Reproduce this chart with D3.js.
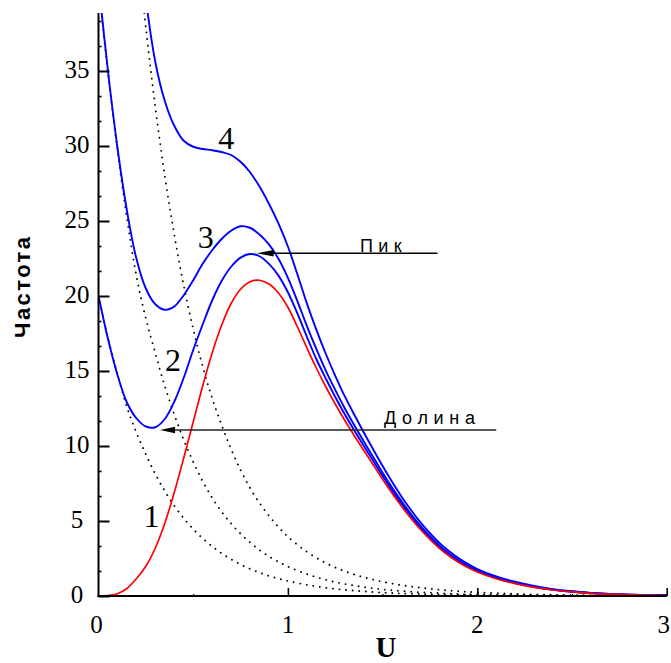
<!DOCTYPE html>
<html>
<head>
<meta charset="utf-8">
<script src="https://cdn.jsdelivr.net/npm/d3@7"></script>
<style>
  html, body { margin: 0; padding: 0; background: #fff; }
  svg { display: block; }
</style>
</head>
<body>
<svg id="chart" width="671" height="663"></svg>
<script>
// Frequency distributions over U: [U, frequency] pairs
// 1 — signal alone (red)
const curve1 = [[0,0],[0.05,0.02],[0.1,0.15],[0.15,0.5],[0.2,1.15],[0.25,1.98],[0.3,3.2],[0.35,4.85],[0.4,6.9],[0.45,9.2],[0.5,11.6],[0.55,14.0],[0.6,16.2],[0.65,18.05],[0.7,19.5],[0.75,20.45],[0.8,20.95],[0.85,21.05],[0.9,20.8],[0.95,20.2],[1.0,19.25],[1.05,17.95],[1.1,16.55],[1.15,15.2],[1.2,13.95],[1.25,12.8],[1.3,11.72],[1.35,10.7],[1.4,9.72],[1.45,8.75],[1.5,7.78],[1.55,6.85],[1.6,5.98],[1.65,5.17],[1.7,4.43],[1.75,3.77],[1.8,3.18],[1.85,2.68],[1.9,2.25],[1.95,1.9],[2.0,1.6],[2.1,1.15],[2.2,0.83],[2.3,0.58],[2.4,0.4],[2.5,0.27],[2.6,0.18],[2.7,0.12],[2.8,0.08],[2.9,0.05],[3.0,0.03]];

// 2..4 — signal with increasing background (blue)
const curve2 = [[0,20],[0.05,17.15],[0.1,14.75],[0.15,12.9],[0.2,11.85],[0.25,11.3],[0.3,11.25],[0.35,11.8],[0.4,12.95],[0.45,14.55],[0.5,16.4],[0.55,18.1],[0.6,19.7],[0.65,21.0],[0.7,21.95],[0.75,22.56],[0.8,22.8],[0.85,22.65],[0.9,22.14],[0.95,21.36],[1.0,20.25],[1.05,18.84],[1.1,17.29],[1.15,15.8],[1.2,14.5],[1.25,13.27],[1.3,12.12],[1.35,11.05],[1.4,10.02],[1.45,9.01],[1.5,8.0],[1.55,7.04],[1.6,6.14],[1.65,5.31],[1.7,4.55],[1.75,3.87],[1.8,3.27],[1.85,2.76],[1.9,2.32],[1.95,1.96],[2.0,1.65],[2.1,1.18],[2.2,0.86],[2.3,0.6],[2.4,0.41],[2.5,0.28],[2.6,0.19],[2.7,0.125],[2.8,0.085],[2.9,0.055],[3.0,0.032]];

const curve3 = [[0,40.9],[0.05,35.0],[0.1,29.9],[0.15,25.7],[0.2,22.5],[0.25,20.5],[0.3,19.45],[0.35,19.08],[0.4,19.3],[0.45,20.05],[0.5,21.05],[0.55,22.15],[0.6,23.05],[0.65,23.8],[0.7,24.35],[0.75,24.65],[0.8,24.55],[0.85,24.1],[0.9,23.44],[0.95,22.48],[1.0,21.21],[1.05,19.66],[1.1,18.01],[1.15,16.47],[1.2,15.03],[1.25,13.74],[1.3,12.52],[1.35,11.4],[1.4,10.32],[1.45,9.27],[1.5,8.22],[1.55,7.23],[1.6,6.31],[1.65,5.46],[1.7,4.68],[1.75,3.99],[1.8,3.37],[1.85,2.84],[1.9,2.39],[1.95,2.02],[2.0,1.7],[2.1,1.23],[2.2,0.89],[2.3,0.625],[2.4,0.435],[2.5,0.3],[2.6,0.2],[2.7,0.13],[2.8,0.09],[2.9,0.057],[3.0,0.035]];

const curve4 = [[0.23,42.2],[0.25,39.8],[0.3,35.6],[0.35,33.0],[0.4,31.35],[0.45,30.35],[0.5,29.95],[0.55,29.8],[0.6,29.72],[0.65,29.6],[0.7,29.4],[0.75,28.95],[0.8,28.25],[0.85,27.3],[0.9,26.15],[0.95,24.84],[1.0,23.3],[1.05,21.45],[1.1,19.51],[1.15,17.76],[1.2,16.15],[1.25,14.68],[1.3,13.32],[1.35,12.1],[1.4,10.92],[1.45,9.78],[1.5,8.66],[1.55,7.61],[1.6,6.62],[1.65,5.73],[1.7,4.91],[1.75,4.19],[1.8,3.54],[1.85,3.0],[1.9,2.53],[1.95,2.14],[2.0,1.8],[2.1,1.31],[2.2,0.95],[2.3,0.67],[2.4,0.46],[2.5,0.32],[2.6,0.21],[2.7,0.14],[2.8,0.09],[2.9,0.06],[3.0,0.035]];

// Background components alone (dotted)
const noiseA = [[0,20],[0.05,17.2],[0.1,14.8],[0.15,12.6],[0.2,10.9],[0.25,9.45],[0.3,8.13],[0.35,7.0],[0.4,6.02],[0.45,5.18],[0.5,4.46],[0.55,3.84],[0.6,3.31],[0.65,2.85],[0.7,2.45],[0.75,2.11],[0.8,1.81],[0.85,1.56],[0.9,1.34],[0.95,1.16],[1.0,1.0],[1.1,0.74],[1.2,0.55],[1.3,0.41],[1.4,0.31],[1.5,0.23],[1.6,0.17],[1.7,0.13],[1.8,0.1],[1.9,0.07],[2.0,0.05],[2.2,0.03],[2.4,0.02],[2.6,0.01],[2.8,0.005],[3.0,0.002]];

const noiseB = [[0,40.8],[0.05,34.9],[0.1,29.75],[0.15,25.2],[0.2,21.35],[0.25,18.5],[0.3,16.2],[0.35,14.0],[0.4,12.1],[0.45,10.4],[0.5,8.95],[0.55,7.65],[0.6,6.55],[0.65,5.62],[0.7,4.83],[0.75,4.15],[0.8,3.57],[0.85,3.07],[0.9,2.64],[0.95,2.28],[1.0,1.96],[1.1,1.46],[1.2,1.08],[1.3,0.8],[1.4,0.6],[1.5,0.44],[1.6,0.33],[1.7,0.25],[1.8,0.19],[1.9,0.14],[2.0,0.1],[2.2,0.06],[2.4,0.035],[2.6,0.02],[2.8,0.01],[3.0,0.005]];

const noiseC = [[0.22,41.5],[0.25,37.9],[0.3,32.6],[0.35,28.0],[0.4,24.1],[0.45,20.7],[0.5,17.8],[0.55,15.3],[0.6,13.2],[0.65,11.4],[0.7,9.8],[0.75,8.4],[0.8,7.2],[0.85,6.2],[0.9,5.35],[0.95,4.6],[1.0,3.95],[1.1,2.95],[1.2,2.2],[1.3,1.65],[1.4,1.25],[1.5,0.95],[1.6,0.72],[1.7,0.55],[1.8,0.42],[1.9,0.32],[2.0,0.24],[2.2,0.14],[2.4,0.08],[2.6,0.045],[2.8,0.025],[3.0,0.015]];

// Axis ticks
const xTicks = [0, 1, 2, 3];
const xMinorTicks = [0.5, 1.5, 2.5];
const yTicks = [0, 5, 10, 15, 20, 25, 30, 35];
const yMinorStep = 5 / 3;

// Curve numbers and arrow annotations (data coordinates)
const curveNames = ["1", "2", "3", "4"];
const curveNameAt = [[0.28, 4.6], [0.394, 14.97], [0.566, 23.2], [0.674, 29.8]];
const arrowText = ["Пик", "Долина"];
const arrowTip = [[0.835, 22.85], [0.325, 11.07]];
const arrowTail = [[1.79, 22.85], [2.10, 11.07]];

const svg = d3.select("#chart");
const plotLeft = 98.5, plotRight = 666.7, plotBottom = 596, plotTop = 13;

const x = d3.scaleLinear().domain([0, 3]).range([plotLeft, plotRight]);
const y = d3.scaleLinear().domain([0, (plotBottom - plotTop) / 15]).range([plotBottom, plotTop]);

svg.append("defs").append("clipPath").attr("id", "plotClip")
  .append("rect").attr("x", plotLeft).attr("y", plotTop)
  .attr("width", 671 - plotLeft).attr("height", plotBottom - plotTop + 2);

const line = d3.line()
  .x(d => x(d[0])).y(d => y(d[1]))
  .curve(d3.curveCatmullRom.alpha(0.5));

const plot = svg.append("g").attr("clip-path", "url(#plotClip)");

// dotted background components
[noiseA, noiseB, noiseC].forEach(s => {
  plot.append("path").attr("d", line(s))
    .attr("fill", "none").attr("stroke", "#000")
    .attr("stroke-width", 1.9).attr("stroke-linecap", "round")
    .attr("stroke-dasharray", "0.01 6.6");
});

// measured distributions
[curve2, curve3, curve4].forEach(s => {
  plot.append("path").attr("d", line(s))
    .attr("fill", "none").attr("stroke", "#0000ff")
    .attr("stroke-width", 1.9);
});
plot.append("path").attr("d", line(curve1))
  .attr("fill", "none").attr("stroke", "#ff0000")
  .attr("stroke-width", 1.7);

// axes
const axisG = svg.append("g");
axisG.append("g").attr("transform", `translate(${plotLeft},0)`)
  .call(d3.axisRight(y).tickValues(yTicks).tickSize(11).tickFormat(""))
  .call(g => g.select(".domain").remove())
  .call(g => g.selectAll("line").attr("stroke", "#000").attr("stroke-width", 2));

const yMinor = d3.range(0, 39, yMinorStep).filter(v => yTicks.every(t => Math.abs(t - v) > 0.01));
axisG.append("g").attr("transform", `translate(${plotLeft},0)`)
  .call(d3.axisRight(y).tickValues(yMinor).tickSize(3).tickFormat(""))
  .call(g => g.select(".domain").remove())
  .call(g => g.selectAll("line").attr("stroke", "#000").attr("stroke-width", 1.6));

axisG.append("g").attr("transform", `translate(0,${plotBottom})`)
  .call(d3.axisTop(x).tickValues(xTicks.filter(v => v > 0)).tickSize(8).tickFormat(""))
  .call(g => g.select(".domain").remove())
  .call(g => g.selectAll("line").attr("stroke", "#000").attr("stroke-width", 1.6));
axisG.append("g").attr("transform", `translate(0,${plotBottom})`)
  .call(d3.axisTop(x).tickValues(xMinorTicks).tickSize(2).tickFormat(""))
  .call(g => g.select(".domain").remove())
  .call(g => g.selectAll("line").attr("stroke", "#000").attr("stroke-width", 1.2));

axisG.append("line").attr("x1", plotLeft).attr("x2", plotLeft).attr("y1", plotTop).attr("y2", plotBottom + 1)
  .attr("stroke", "#000").attr("stroke-width", 2);
axisG.append("line").attr("x1", plotLeft - 1).attr("x2", plotRight).attr("y1", plotBottom).attr("y2", plotBottom)
  .attr("stroke", "#000").attr("stroke-width", 2);

// tick labels
const serif = "'Liberation Serif', 'Times New Roman', serif";
svg.append("g").selectAll("text").data(yTicks).join("text")
  .attr("x", 77).attr("y", d => y(d) + 7)
  .attr("text-anchor", "middle").attr("font-family", serif).attr("font-size", 25)
  .text(d => d);
svg.append("g").selectAll("text").data(xTicks).join("text")
  .attr("x", d => d === 3 ? 670 : x(d) - (d === 0 ? 2 : 0)).attr("y", 633)
  .attr("text-anchor", d => d === 3 ? "end" : "middle")
  .attr("font-family", serif).attr("font-size", 25)
  .text(d => d);

// axis titles
svg.append("text").attr("x", 386).attr("y", 656.5)
  .attr("text-anchor", "middle").attr("font-family", serif)
  .attr("font-weight", "bold").attr("font-size", 29).text("U");
svg.append("text")
  .attr("transform", "translate(30,287.5) rotate(-90)")
  .attr("text-anchor", "middle")
  .attr("font-family", "'Liberation Sans', Arial, sans-serif")
  .attr("font-weight", "bold").attr("font-size", 22)
  .attr("textLength", 101).attr("lengthAdjust", "spacing")
  .text("Частота");

// curve numbers
svg.append("g").selectAll("text").data(curveNames).join("text")
  .attr("x", (d, i) => x(curveNameAt[i][0]))
  .attr("y", (d, i) => y(curveNameAt[i][1]))
  .attr("text-anchor", "middle").attr("font-family", serif).attr("font-size", 32)
  .text(d => d);

// arrows: peak and valley
const ann = svg.append("g");
arrowText.forEach((t, i) => {
  const tx = x(arrowTip[i][0]), ty = y(arrowTip[i][1]);
  const ex = x(arrowTail[i][0]);
  const headLen = i === 0 ? 17 : 15, headHalf = 3.3;
  ann.append("line").attr("x1", tx + headLen - 1).attr("x2", ex)
    .attr("y1", ty).attr("y2", ty)
    .attr("stroke", i === 0 ? "#000" : "#222").attr("stroke-width", i === 0 ? 1.4 : 1.6);
  ann.append("path")
    .attr("d", `M${tx},${ty} L${tx + headLen},${ty - headHalf} L${tx + headLen},${ty + headHalf} Z`)
    .attr("fill", "#000");
});
const labelSpan = [[360, 401.7, 1.7], [384, 475, 6.3]];
arrowText.forEach((t, i) => {
  const ty = y(arrowTip[i][1]);
  svg.append("text").attr("x", labelSpan[i][0]).attr("y", ty - labelSpan[i][2])
    .attr("font-family", "'Liberation Sans', Arial, sans-serif").attr("font-size", 18)
    .attr("textLength", labelSpan[i][1] - labelSpan[i][0]).attr("lengthAdjust", "spacing")
    .text(t);
});
</script>
</body>
</html>
